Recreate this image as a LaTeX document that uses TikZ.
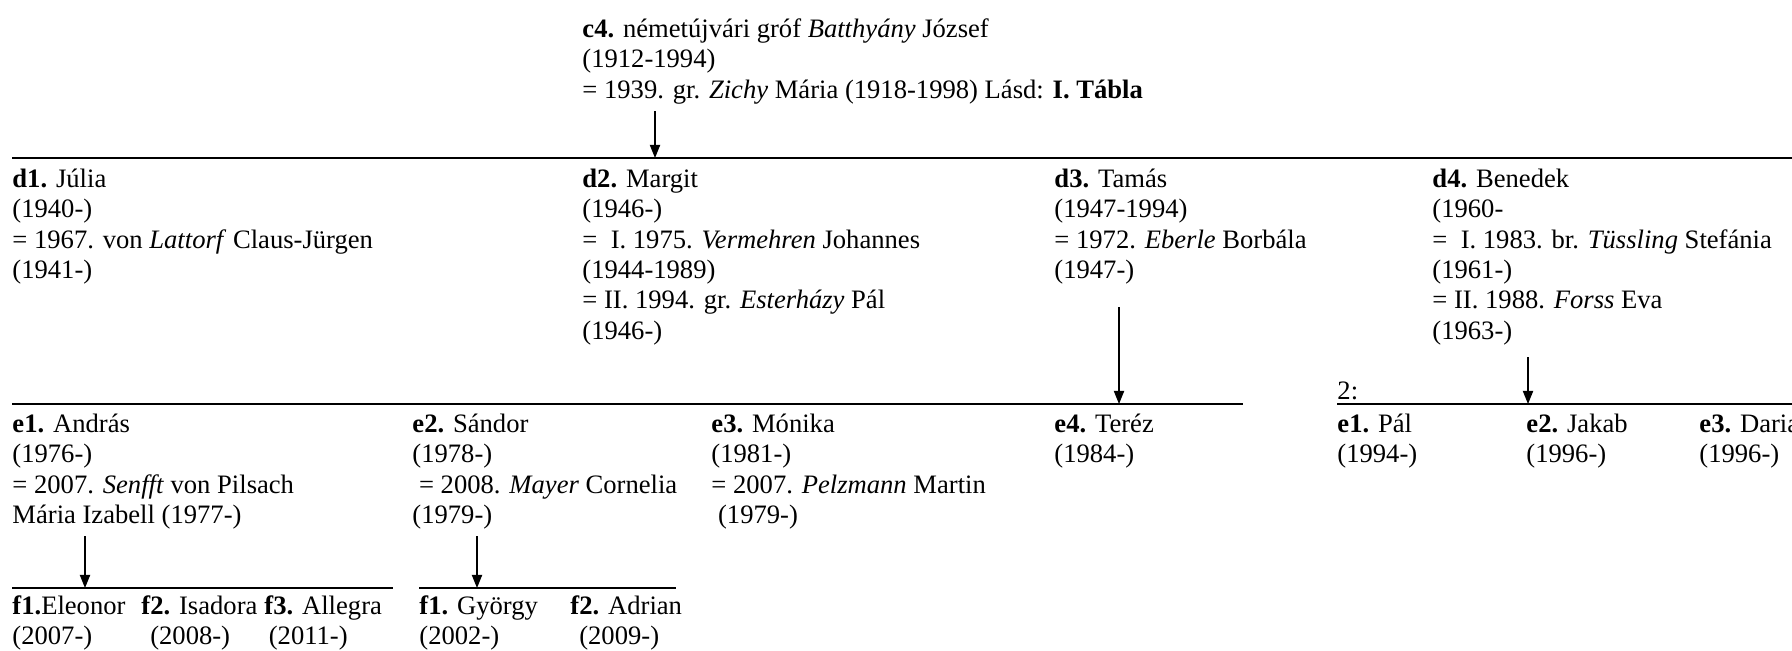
\documentclass[tikz,border=0pt]{standalone}
\usepackage{fontspec}
\setmainfont{Liberation Serif}
\usetikzlibrary{arrows.meta}
\begin{document}
\begin{tikzpicture}[x=0.451pt,y=-0.451pt,
  person/.style={anchor=north west,align=left,font=\fontsize{12}{13.7}\selectfont},
  bar/.style={line width=0.9pt},
  down/.style={line width=0.6pt,-{Triangle[length=5.9pt,width=4.6pt]}}]
\tikzstyle{every node}+=[inner sep=0pt]
\useasboundingbox (0,0) rectangle (1792,650);
\node [person] (c4) at (582,15.7) {\strut\textbf{c4.} németújvári gróf \textit{Batthyány} József\\(1912-1994)\\= 1939. gr. \textit{Zichy} Mária (1918-1998) Lásd: \textbf{I. Tábla}};
\coordinate (b1w) at (12,158);
\coordinate (b1e) at (1792,158);
\draw [bar] (b1w) -- (b1e);
\coordinate (c4s) at (655,111);
\draw [down] (c4s) -- (c4s |- b1w);
\node [person] (d1) at (12,165.7) {\strut\textbf{d1.} Júlia\\(1940-)\\= 1967. von \textit{Lattorf} Claus-Jürgen\\(1941-)};
\node [person] (d2) at (582,165.7) {\strut\textbf{d2.} Margit\\(1946-)\\= \ I. 1975. \textit{Vermehren} Johannes\\(1944-1989)\\= II. 1994. gr. \textit{Esterházy} Pál\\(1946-)};
\node [person] (d3) at (1054,165.7) {\strut\textbf{d3.} Tamás\\(1947-1994)\\= 1972. \textit{Eberle} Borbála\\(1947-)};
\node [person] (d4) at (1432,165.7) {\strut\textbf{d4.} Benedek\\(1960-\\= \ I. 1983. br. \textit{Tüssling} Stefánia\\(1961-)\\= II. 1988. \textit{Forss} Eva\\(1963-)};
\coordinate (b2w) at (12,404);
\coordinate (b2e) at (1243,404);
\coordinate (b3w) at (1337,404);
\coordinate (b3e) at (1792,404);
\draw [bar] (b2w) -- (b2e);
\draw [bar] (b3w) -- (b3e);
\coordinate (d3s) at (1119,307);
\coordinate (d4s) at (1528,357);
\draw [down] (d3s) -- (d3s |- b2w);
\draw [down] (d4s) -- (d4s |- b3w);
\node [person] (two) at (1337,377.7) {\strut 2:};
\node [person] (e1) at (12,410.7) {\strut\textbf{e1.} András\\(1976-)\\= 2007. \textit{Senfft} von Pilsach\\Mária Izabell (1977-)};
\node [person] (e2) at (412,410.7) {\strut\textbf{e2.} Sándor\\(1978-)\\\ = 2008. \textit{Mayer} Cornelia\\(1979-)};
\node [person] (e3) at (711,410.7) {\strut\textbf{e3.} Mónika\\(1981-)\\= 2007. \textit{Pelzmann} Martin\\\ (1979-)};
\node [person] (e4) at (1054,410.7) {\strut\textbf{e4.} Teréz\\(1984-)};
\node [person] (g1) at (1337,410.7) {\strut\textbf{e1.} Pál\\(1994-)};
\node [person] (g2) at (1526,410.7) {\strut\textbf{e2.} Jakab\\(1996-)};
\node [person] (g3) at (1699,410.7) {\strut\textbf{e3.} Daria\\(1996-)};
\coordinate (b4w) at (12,588);
\coordinate (b4e) at (393,588);
\coordinate (b5w) at (419,588);
\coordinate (b5e) at (676,588);
\draw [bar] (b4w) -- (b4e);
\draw [bar] (b5w) -- (b5e);
\coordinate (e1s) at (85,536);
\coordinate (e2s) at (477,536);
\draw [down] (e1s) -- (e1s |- b4w);
\draw [down] (e2s) -- (e2s |- b5w);
\node [person] (f1) at (12,592.5) {\strut\textbf{f1.}Eleonor\\(2007-)};
\node [person] (f2) at (141,592.5) {\strut\textbf{f2.} Isadora\\\hspace*{4pt}(2008-)};
\node [person] (f3) at (264,592.5) {\strut\textbf{f3.} Allegra\\\hspace*{2pt}(2011-)};
\node [person] (h1) at (419,592.5) {\strut\textbf{f1.} György\\(2002-)};
\node [person] (h2) at (570,592.5) {\strut\textbf{f2.} Adrian\\\hspace*{4pt}(2009-)};
\end{tikzpicture}
\end{document}
